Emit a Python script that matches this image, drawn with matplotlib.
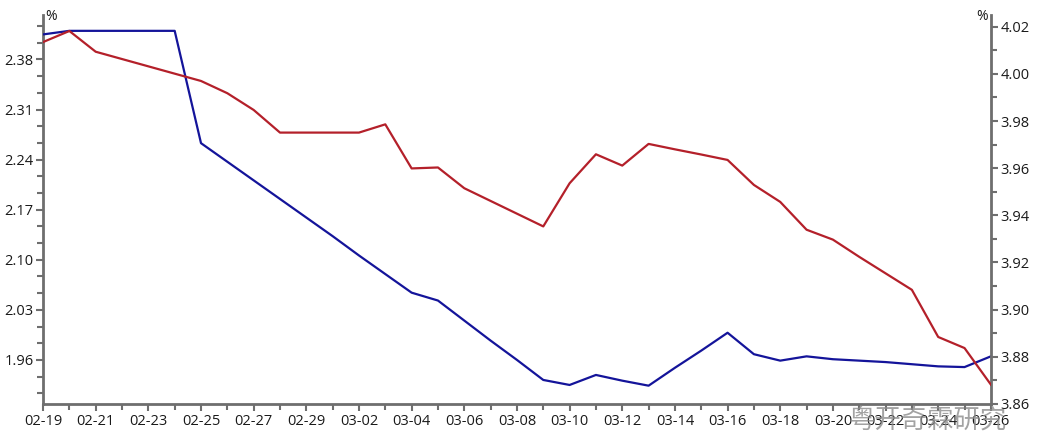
import numpy as np
import pandas as pd
import matplotlib
matplotlib.use("Agg")
import matplotlib.pyplot as plt
import matplotlib.dates as mdates
from matplotlib.ticker import MultipleLocator

plt.rcParams['font.family'] = ['Open Sans', 'Noto Sans CJK SC', 'DejaVu Sans']

# daily data 2024-02-19 .. 2024-03-26
dates = pd.date_range("2024-02-19", "2024-03-26", freq="D")

# blue series, left axis (%)
blue_vals = [2.415, 2.420, 2.420, 2.420, 2.420, 2.420, 2.263, 2.237, 2.211, 2.185,
             2.159, 2.133, 2.106, 2.080, 2.054, 2.043, 2.015, 1.987, 1.960, 1.932,
             1.925, 1.939, 1.931, 1.924, 1.949, 1.973, 1.998, 1.968, 1.959, 1.965,
             1.961, 1.959, 1.957, 1.954, 1.951, 1.950, 1.965]

# red series, right axis (%)
red_vals = [4.0135, 4.0182, 4.0094, 4.0063, 4.0032, 4.0001, 3.9970, 3.9918, 3.9847, 3.9751,
            3.9751, 3.9751, 3.9751, 3.9786, 3.9599, 3.9603, 3.9515, 3.9461, 3.9407, 3.9353,
            3.9536, 3.9659, 3.9611, 3.9703, 3.9680, 3.9658, 3.9635, 3.9529, 3.9457, 3.9339,
            3.9297, 3.9224, 3.9154, 3.9084, 3.8884, 3.8837, 3.8682]

left_ticks = [1.96, 2.03, 2.10, 2.17, 2.24, 2.31, 2.38]
right_ticks = [3.86, 3.88, 3.90, 3.92, 3.94, 3.96, 3.98, 4.00, 4.02]

spine_col = "#6e6e6e"
blue = "#14149a"
red = "#b4202a"

fig = plt.figure(figsize=(10.37, 4.4), dpi=100)
ax = fig.add_axes([0.0415, 0.082, 0.914, 0.884])
ax2 = ax.twinx()

ax.plot(dates, blue_vals, color=blue, lw=1.6, zorder=3)
ax2.plot(dates, red_vals, color=red, lw=1.6, zorder=3)

ax.set_xlim(dates[0], dates[-1])
ax.set_ylim(1.8985, 2.4422)
ax2.set_ylim(3.86, 4.025)

ax.set_yticks(left_ticks)
ax.set_yticklabels([f"{v:.2f}" for v in left_ticks])
ax.yaxis.set_minor_locator(MultipleLocator(0.07 / 3))
ax2.set_yticks(right_ticks)
ax2.set_yticklabels([f"{v:.2f}" for v in right_ticks])
ax2.yaxis.set_minor_locator(MultipleLocator(0.01))

ax.set_xticks(dates[::2])
ax.xaxis.set_minor_locator(mdates.DayLocator())
ax.xaxis.set_major_formatter(mdates.DateFormatter("%m-%d"))

for a in (ax, ax2):
    a.spines['top'].set_visible(False)
    for s in ('left', 'right', 'bottom'):
        a.spines[s].set_color(spine_col)
        a.spines[s].set_linewidth(2)
    a.tick_params(which='major', length=5, width=1.5, color=spine_col,
                  labelsize=10.5, labelcolor="#1a1a1a", pad=2)
    a.tick_params(which='minor', length=4, width=1.5, color=spine_col)
ax.spines['right'].set_visible(False)
ax2.spines['left'].set_visible(False)
ax2.spines['bottom'].set_visible(False)

fig.text(0.0435, 0.963, "%", fontsize=10, color="#1a1a1a", ha='left', va='center')
fig.text(0.953, 0.963, "%", fontsize=10, color="#1a1a1a", ha='right', va='center')

# watermark (lies over the last date labels, as in the source image)
fig.text(0.895, 0.045, "粤开奇霖研究", fontsize=19, color="#8c8c8c", alpha=0.8,
         ha='center', va='center', family=['Noto Sans CJK SC', 'DejaVu Sans'], zorder=10)

fig.savefig("out.png", dpi=100)
